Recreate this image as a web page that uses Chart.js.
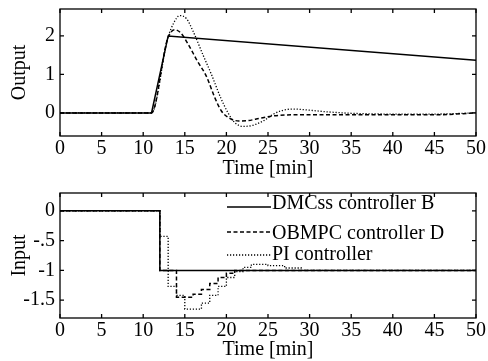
<!DOCTYPE html>
<html>
<head>
<meta charset="utf-8">
<script src="https://cdn.jsdelivr.net/npm/chart.js@4.4.1/dist/chart.umd.min.js"></script>
<style>
  html, body { margin: 0; padding: 0; background: #fff; width: 488px; height: 361px; overflow: hidden; }
  .panel { position: absolute; left: 0; width: 488px; overflow: hidden; }
  #topPanel { top: 0; height: 180px; }
  #botPanel { top: 180px; height: 181px; }
  .panel canvas { position: absolute; left: 0; }
</style>
</head>
<body>
<div class="panel" id="topPanel"><canvas id="outChart" width="520" height="210" style="top:-30px;width:520px;height:210px"></canvas></div>
<div class="panel" id="botPanel"><canvas id="inChart" width="520" height="211" style="top:-30px;width:520px;height:211px"></canvas></div>
<script>
// ---- time axis ----
const timeTicks = [0, 5, 10, 15, 20, 25, 30, 35, 40, 45, 50];

// ---- controlled output ----
const outTicks = [0, 1, 2];
const outTickLabels = ['0', '1', '2'];

const outTimeDmc = [0, 11, 13, 50];
const outDmc     = [0, 0, 2.0, 1.37];

const outTimeObmpc = [0, 11, 12.9, 13.8, 14.5, 15.5, 16.5, 17.6, 18.6, 19.4, 20.4, 21.5, 22.6, 24, 25.6, 28, 35, 45, 50];
const outObmpc     = [0, 0, 1.9, 2.16, 2.08, 1.75, 1.35, 0.95, 0.4, 0.05, -0.14, -0.21, -0.2, -0.14, -0.08, -0.05, -0.05, -0.05, 0];

const outTimePi = [0, 11, 12.9, 13.7, 14.4, 15.2, 16, 17.2, 18.2, 19.3, 20.2, 21, 22, 23, 24.5, 25.5, 26.5, 28, 30, 32, 35, 40, 45, 50];
const outPi     = [0, 0, 1.9, 2.35, 2.53, 2.45, 2.12, 1.5, 1.0, 0.4, 0.0, -0.25, -0.35, -0.33, -0.2, -0.05, 0.05, 0.1, 0.07, 0.03, -0.01, -0.03, -0.03, 0];

// ---- manipulated input (zero-order hold) ----
const inTicks = [0, -0.5, -1, -1.5];
const inTickLabels = ['0', '-.5', '-1', '-1.5'];

const inTimeDmc = [0, 12, 50];
const inDmc     = [0, -1, -1];

const inTimeObmpc = [0, 12, 14, 16, 17, 18, 19, 20, 21, 50];
const inObmpc     = [0, -1, -1.45, -1.4, -1.32, -1.22, -1.12, -1.05, -1, -1];

const inTimePi = [0, 12, 13, 14, 15, 17, 18, 19, 20, 21, 22, 23, 25, 27, 29, 50];
const inPi     = [0, -0.43, -1.27, -1.42, -1.65, -1.55, -1.42, -1.27, -1.12, -1.02, -0.95, -0.9, -0.92, -0.96, -1, -1];

const seriesNames = ['DMCss controller B', 'OBMPC controller D', 'PI controller'];

// ---- shared styling ----
const FONT = { family: '"Liberation Serif", "Times New Roman", serif', size: 20, lineHeight: 1 };
const INK = '#000';
const lineStyles = [
  { borderDash: [], borderWidth: 1.5 },
  { borderDash: [4, 2.5], borderWidth: 1.5 },
  { borderDash: [1.2, 1.8], borderWidth: 1.3 }
];

const zip = (xs, ys) => xs.map((x, i) => ({ x, y: ys[i] }));

function makeDataset(i, xs, ys, extra) {
  return Object.assign({
    label: seriesNames[i],
    data: zip(xs, ys),
    borderColor: INK,
    backgroundColor: INK,
    borderDash: lineStyles[i].borderDash,
    borderWidth: lineStyles[i].borderWidth,
    pointRadius: 0,
    fill: false
  }, extra || {});
}

// box with inward ticks on all four sides
const framePlugin = {
  id: 'frame',
  afterDatasetsDraw(chart) {
    const { ctx, chartArea: { left, right, top, bottom }, scales: { x, y } } = chart;
    ctx.save();
    ctx.strokeStyle = INK;
    ctx.lineWidth = 1.3;
    ctx.setLineDash([]);
    ctx.strokeRect(left, top, right - left, bottom - top);
    ctx.beginPath();
    const L = 4;
    x.ticks.forEach(t => {
      const px = x.getPixelForValue(t.value);
      ctx.moveTo(px, bottom); ctx.lineTo(px, bottom - L);
      ctx.moveTo(px, top); ctx.lineTo(px, top + L);
    });
    y.ticks.forEach(t => {
      const py = y.getPixelForValue(t.value);
      ctx.moveTo(left, py); ctx.lineTo(left + L, py);
      ctx.moveTo(right, py); ctx.lineTo(right - L, py);
    });
    ctx.stroke();
    ctx.restore();
  }
};

// legend: line sample followed by the series name
const legendPlugin = {
  id: 'seriesLegend',
  afterDatasetsDraw(chart, args, opts) {
    const { ctx } = chart;
    ctx.save();
    ctx.font = `${FONT.size}px ${FONT.family}`;
    ctx.fillStyle = INK;
    ctx.textBaseline = 'middle';
    ctx.textAlign = 'left';
    chart.data.datasets.forEach((ds, i) => {
      const row = opts.rows[i];
      ctx.strokeStyle = INK;
      ctx.lineWidth = ds.borderWidth;
      ctx.setLineDash(ds.borderDash);
      ctx.beginPath();
      ctx.moveTo(opts.x0, row.line);
      ctx.lineTo(opts.x1, row.line);
      ctx.stroke();
      ctx.fillText(ds.label, opts.x1 + 1, row.text);
    });
    ctx.restore();
  }
};

function makeOptions(cfg) {
  return {
    responsive: false,
    animation: false,
    events: [],
    layout: { padding: { left: 0, right: 44, top: cfg.padTop, bottom: 0 } },
    plugins: {
      legend: { display: false },
      tooltip: { enabled: false },
      seriesLegend: cfg.legend || false
    },
    scales: {
      x: {
        type: 'linear',
        min: 0, max: 50,
        afterBuildTicks(s) { s.ticks = timeTicks.map(v => ({ value: v })); },
        afterFit(s) { s.height = cfg.xHeight; },
        ticks: { font: FONT, color: INK, padding: 3, maxRotation: 0, autoSkip: false },
        grid: { display: false, drawTicks: false },
        border: { display: false },
        title: { display: true, text: 'Time [min]', font: FONT, color: INK, padding: { top: 0, bottom: cfg.titlePad } }
      },
      y: {
        type: 'linear',
        min: cfg.yMin, max: cfg.yMax,
        afterBuildTicks(s) { s.ticks = cfg.yTicks.map(v => ({ value: v })); },
        afterFit(s) { s.width = 60; },
        ticks: { font: FONT, color: INK, padding: 5, callback: (v, i) => cfg.yLabels[i] },
        grid: { display: false, drawTicks: false },
        border: { display: false },
        title: { display: true, text: cfg.yTitle, font: FONT, color: INK, padding: { top: 10, bottom: 0 } }
      }
    }
  };
}

const smooth = { cubicInterpolationMode: 'monotone' };

new Chart(document.getElementById('outChart'), {
  type: 'line',
  data: {
    datasets: [
      makeDataset(0, outTimeDmc, outDmc),
      makeDataset(1, outTimeObmpc, outObmpc, smooth),
      makeDataset(2, outTimePi, outPi, smooth)
    ]
  },
  options: makeOptions({
    padTop: 39, xHeight: 44, titlePad: 1,
    yMin: -0.6, yMax: 2.7, yTicks: outTicks, yLabels: outTickLabels, yTitle: 'Output'
  }),
  plugins: [framePlugin]
});

new Chart(document.getElementById('inChart'), {
  type: 'line',
  data: {
    datasets: [
      makeDataset(0, inTimeDmc, inDmc, { stepped: 'before' }),
      makeDataset(1, inTimeObmpc, inObmpc, { stepped: 'before' }),
      makeDataset(2, inTimePi, inPi, { stepped: 'before' })
    ]
  },
  options: makeOptions({
    padTop: 43, xHeight: 43, titlePad: 1,
    yMin: -1.8, yMax: 0.3, yTicks: inTicks, yLabels: inTickLabels, yTitle: 'Input',
    legend: {
      x0: 227, x1: 271,
      rows: [ { line: 57, text: 54 }, { line: 82, text: 84 }, { line: 105, text: 105 } ]
    }
  }),
  plugins: [framePlugin, legendPlugin]
});
</script>
</body>
</html>
